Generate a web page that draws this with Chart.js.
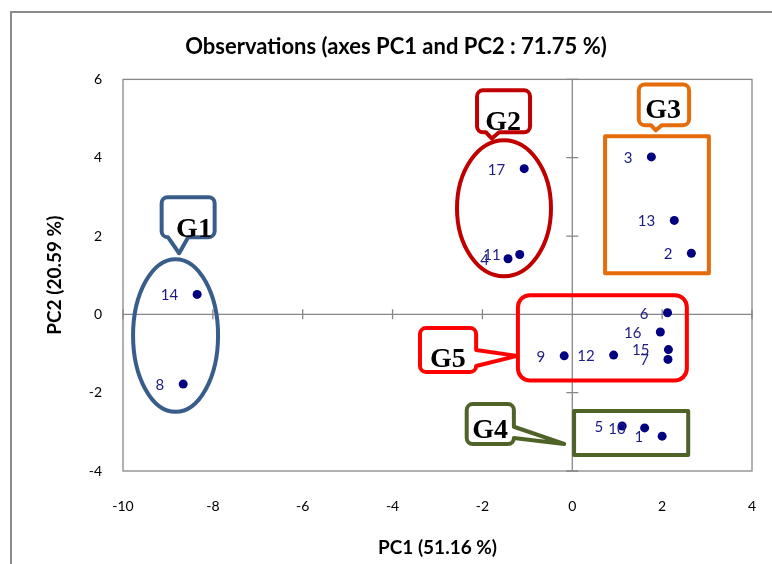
<!DOCTYPE html>
<html><head><meta charset="utf-8">
<script src="https://cdn.jsdelivr.net/npm/chart.js@4.4.1/dist/chart.umd.min.js"></script>
<style>html,body{margin:0;padding:0;background:#fff;}canvas{display:block;}</style>
</head><body>
<canvas id="c" width="772" height="564"></canvas>
<script>
// ---- data ----
const observations = ['1','2','3','4','5','6','7','8','9','10','11','12','13','14','15','16','17'];
const pc1 = [2.00, 2.65, 1.76, -1.43, 1.11, 2.12, 2.13, -8.66, -0.18, 1.61, -1.17, 0.92, 2.27, -8.35, 2.14, 1.96, -1.07];
const pc2 = [-3.11, 1.56, 4.02, 1.42, -2.85, 0.04, -1.15, -1.78, -1.06, -2.90, 1.53, -1.04, 2.40, 0.51, -0.90, -0.45, 3.72];
const xTicks = [-10, -8, -6, -4, -2, 0, 2, 4];
const yTicks = [-4, -2, 0, 2, 4, 6];
const titleText = 'Observations (axes PC1 and PC2 : 71.75 %)';
const xTitle = 'PC1 (51.16 %)';
const yTitle = 'PC2 (20.59 %)';
const groupNames = ['G1', 'G2', 'G3', 'G4', 'G5'];

// ---- group annotations (in data units) ----
const enclosures = [
  {type:'ellipse', cx:-8.83, cy:-0.54, rx:0.946, ry:1.95, color:'#385d8a'},
  {type:'ellipse', cx:-1.52, cy:2.71, rx:1.046, ry:1.735, color:'#c00000'},
  {type:'rect', x0:0.73, x1:3.04, y0:4.55, y1:1.05, r:0, color:'#e46c0a'},
  {type:'rect', x0:0.04, x1:2.58, y0:-2.47, y1:-3.59, r:0, color:'#4f6228'},
  {type:'rect', x0:-1.21, x1:2.55, y0:0.49, y1:-1.69, r:12, color:'#ff0000'}
];
const callouts = [
  {x0:-9.14, x1:-7.96, y0:2.99, y1:1.97, side:'bottom', a:-9.00, b:-8.55, tx:-8.75, ty:1.56, lx:-8.42, ly:1.97, color:'#385d8a'},
  {x0:-2.12, x1:-0.94, y0:5.72, y1:4.65, side:'bottom', a:-1.92, b:-1.63, tx:-1.79, ty:4.49, lx:-1.54, ly:4.70, color:'#c00000'},
  {x0:1.48, x1:2.60, y0:5.87, y1:4.83, side:'bottom', a:1.75, b:1.99, tx:1.86, ty:4.70, lx:2.02, ly:5.01, color:'#e46c0a'},
  {x0:-2.35, x1:-1.30, y0:-2.29, y1:-3.31, side:'right', a:-2.87, b:-3.16, tx:-0.18, ty:-3.31, lx:-1.83, ly:-3.17, color:'#4f6228'},
  {x0:-3.39, x1:-2.14, y0:-0.35, y1:-1.47, side:'right', a:-0.91, b:-1.32, tx:-1.23, ty:-1.06, lx:-2.77, ly:-1.35, color:'#ff0000'}
];

const AXIS_GRAY = '#878787';
const FONT = 'Lato, "Open Sans", sans-serif';

function calloutPath(ctx, x0, y0, x1, y1, r, side, a, b, tx, ty) {
  ctx.beginPath();
  ctx.moveTo(x0 + r, y0);
  ctx.lineTo(x1 - r, y0);
  ctx.arcTo(x1, y0, x1, y0 + r, r);
  if (side === 'right') {
    const ya = Math.min(a, b), yb = Math.max(a, b);
    ctx.lineTo(x1, ya); ctx.lineTo(tx, ty); ctx.lineTo(x1, yb);
  }
  ctx.lineTo(x1, y1 - r);
  ctx.arcTo(x1, y1, x1 - r, y1, r);
  if (side === 'bottom') {
    const xa = Math.min(a, b), xb = Math.max(a, b);
    ctx.lineTo(xb, y1); ctx.lineTo(tx, ty); ctx.lineTo(xa, y1);
  }
  ctx.lineTo(x0 + r, y1);
  ctx.arcTo(x0, y1, x0, y1 - r, r);
  ctx.lineTo(x0, y0 + r);
  ctx.arcTo(x0, y0, x0 + r, y0, r);
  ctx.closePath();
}

const decorPlugin = {
  id: 'decor',
  beforeDraw(chart) {
    const ctx = chart.ctx;
    ctx.save();
    ctx.fillStyle = '#fff';
    ctx.fillRect(0, 0, chart.width, chart.height);
    ctx.strokeStyle = '#8a8a8a';
    ctx.lineWidth = 2;
    ctx.strokeRect(11, 12, chart.width + 20, chart.height + 20);
    ctx.restore();
  },
  beforeDatasetsDraw(chart) {
    const ctx = chart.ctx, xs = chart.scales.x, ys = chart.scales.y, ca = chart.chartArea;
    const X = v => xs.getPixelForValue(v), Y = v => ys.getPixelForValue(v);
    ctx.save();
    ctx.strokeStyle = AXIS_GRAY; ctx.lineWidth = 1.3;
    ctx.strokeRect(ca.left, ca.top, ca.right - ca.left, ca.bottom - ca.top);
    const x0 = X(0), y0 = Y(0);
    ctx.beginPath();
    ctx.moveTo(x0, ca.top); ctx.lineTo(x0, ca.bottom);
    ctx.moveTo(ca.left, y0); ctx.lineTo(ca.right, y0);
    yTicks.forEach(v => { const yy = Y(v); ctx.moveTo(x0 - 6, yy); ctx.lineTo(x0 + 6, yy); });
    xTicks.forEach(v => { const xx = X(v); ctx.moveTo(xx, y0 - 5); ctx.lineTo(xx, y0 + 5); });
    ctx.stroke();
    ctx.lineWidth = 4; ctx.lineJoin = 'round';
    enclosures.forEach(e => {
      ctx.strokeStyle = e.color;
      ctx.beginPath();
      if (e.type === 'ellipse') {
        const cx = X(e.cx), cy = Y(e.cy);
        ctx.ellipse(cx, cy, Math.abs(X(e.cx + e.rx) - cx), Math.abs(Y(e.cy + e.ry) - cy), 0, 0, Math.PI * 2);
      } else {
        const a = X(e.x0), b = X(e.x1), c = Y(e.y0), d = Y(e.y1);
        if (e.r > 0) { calloutPath(ctx, a, c, b, d, e.r, 'none'); }
        else { ctx.rect(a, c, b - a, d - c); }
      }
      ctx.stroke();
    });
    callouts.forEach((c, i) => {
      const a = c.side === 'bottom' ? X(c.a) : Y(c.a);
      const b = c.side === 'bottom' ? X(c.b) : Y(c.b);
      calloutPath(ctx, X(c.x0), Y(c.y0), X(c.x1), Y(c.y1), 6, c.side, a, b, X(c.tx), Y(c.ty));
      ctx.fillStyle = '#fff'; ctx.fill();
      ctx.strokeStyle = c.color; ctx.lineWidth = 4; ctx.stroke();
      ctx.fillStyle = '#000';
      ctx.font = 'bold 28px "Liberation Serif", "Times New Roman", serif';
      ctx.textAlign = 'center'; ctx.textBaseline = 'alphabetic';
      ctx.fillText(groupNames[i], X(c.lx), Y(c.ly));
    });
    ctx.restore();
  },
  afterDatasetsDraw(chart) {
    const ctx = chart.ctx;
    const meta = chart.getDatasetMeta(0);
    ctx.save();
    ctx.fillStyle = '#1c1c84';
    ctx.font = '15px ' + FONT;
    ctx.textAlign = 'right'; ctx.textBaseline = 'middle';
    meta.data.forEach((pt, i) => {
      ctx.fillText(observations[i], pt.x - 19, pt.y + 1);
    });
    ctx.restore();
  }
};

new Chart(document.getElementById('c'), {
  type: 'scatter',
  data: {
    labels: observations,
    datasets: [{
      label: 'Observations',
      data: pc1.map((v, i) => ({x: v, y: pc2[i]})),
      backgroundColor: '#000080',
      borderWidth: 0,
      pointRadius: 4.5,
      pointHoverRadius: 4.5
    }]
  },
  options: {
    responsive: false,
    animation: false,
    devicePixelRatio: 1,
    events: [],
    layout: {padding: {left: 40, right: 20, top: 0, bottom: 0}},
    plugins: {
      legend: {display: false},
      tooltip: {enabled: false},
      title: {
        display: true, text: titleText, color: '#000',
        font: {family: FONT, size: 22, weight: 'bold'},
        padding: {top: 34, bottom: 19}
      }
    },
    scales: {
      x: {
        type: 'linear', min: -10, max: 4,
        afterBuildTicks: s => { s.ticks = xTicks.map(v => ({value: v})); },
        afterFit: s => { s.height = 93; },
        grid: {display: true, drawOnChartArea: false, drawTicks: true, tickLength: 27, color: 'rgba(0,0,0,0)'},
        border: {display: false},
        ticks: {color: '#000', padding: 0, font: {family: FONT, size: 14}},
        title: {display: true, text: xTitle, color: '#000', padding: {top: 0, bottom: 5},
          font: {family: FONT, size: 19, weight: 'bold'}}
      },
      y: {
        type: 'linear', min: -4, max: 6,
        afterBuildTicks: s => { s.ticks = yTicks.map(v => ({value: v})); },
        afterFit: s => { s.width = 83; },
        grid: {display: true, drawOnChartArea: false, drawTicks: true, tickLength: 21, color: 'rgba(0,0,0,0)'},
        border: {display: false},
        ticks: {color: '#000', padding: 0, font: {family: FONT, size: 14}},
        title: {display: true, text: yTitle, color: '#000', padding: {top: 3, bottom: 0},
          font: {family: FONT, size: 19, weight: 'bold'}}
      }
    }
  },
  plugins: [decorPlugin]
});
</script>
</body></html>
